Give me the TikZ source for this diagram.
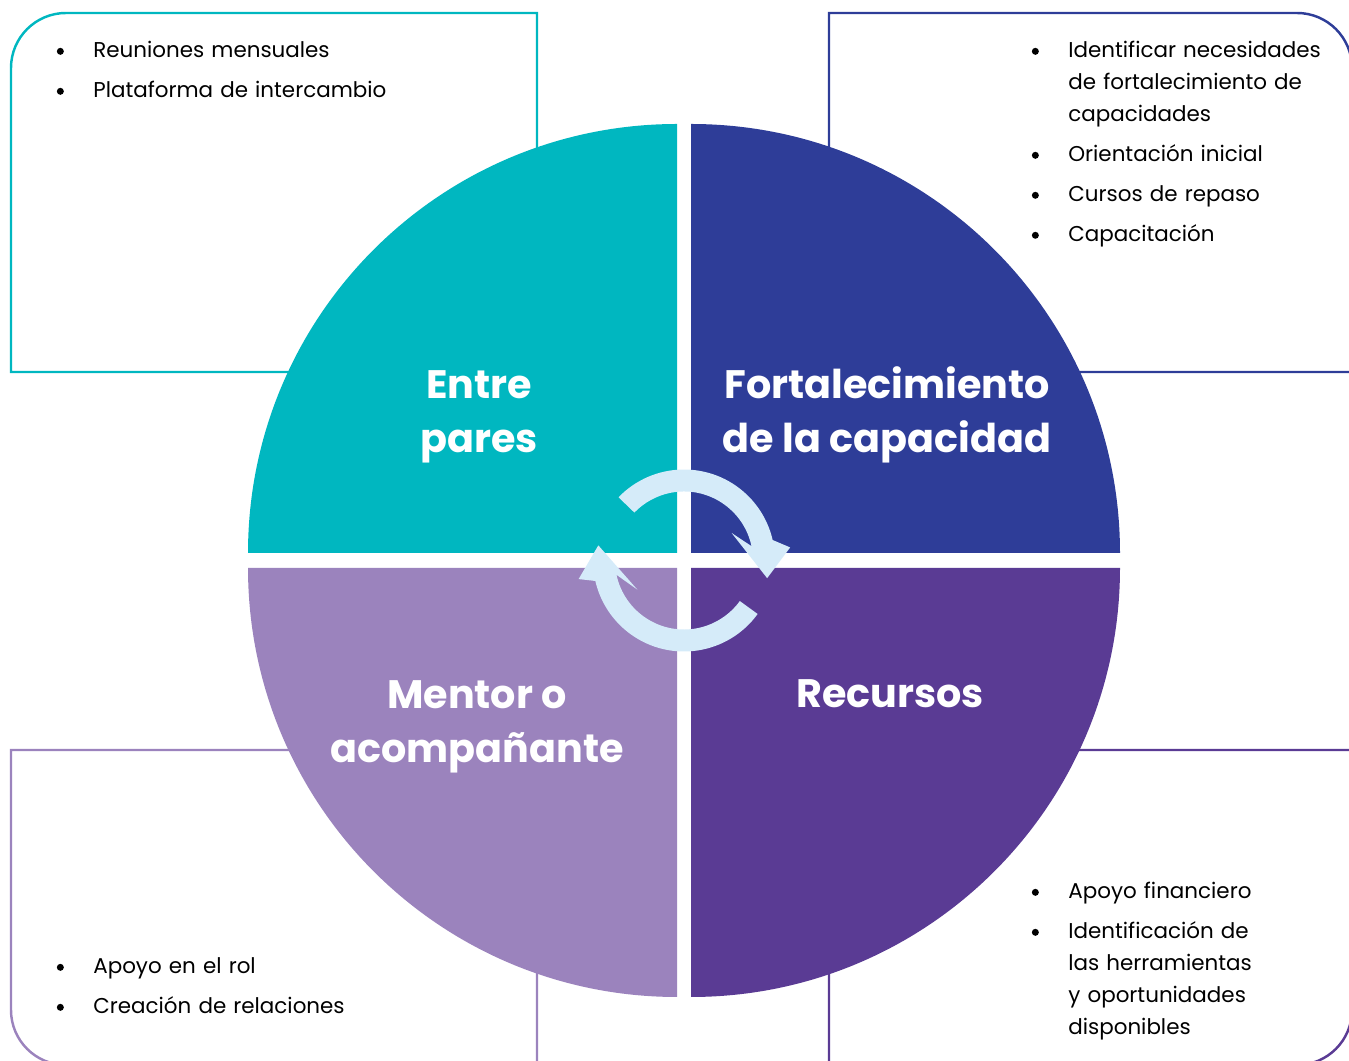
\documentclass[tikz,border=0pt]{standalone}
\usepackage{fontspec}
\setmainfont{Poppins}
\usetikzlibrary{positioning,calc}
\definecolor{cpares}{HTML}{00B7C0}
\definecolor{cfort}{HTML}{2E3D98}
\definecolor{cmentor}{HTML}{9B83BD}
\definecolor{crecursos}{HTML}{5A3B94}
\definecolor{cflecha}{HTML}{D5EBF9}

% one bullet line of a list, with hanging indent
\newcommand{\punto}[1]{\par\hangindent=0.76cm\hangafter=1\noindent
  \makebox[0.76cm][l]{\hspace{0.03cm}\tikz[baseline=-0.12cm]\fill (0cm,0cm) circle (0.07cm);}#1\par}

\tikzset{
  caja/.style={line width=1.4pt},
  lista/.style={anchor=north west, inner sep=0pt, text width=8cm, align=left,
    font=\fontsize{12.2pt}{0.64cm}\selectfont\setlength{\parskip}{0.16cm}},
  titulo/.style={white, align=center, inner sep=0pt,
    font=\fontsize{22.6pt}{1.08cm}\selectfont\bfseries},
  flecha/.style={fill=cflecha}
}

\begin{document}
\begin{tikzpicture}[x=0.02cm,y=0.02cm]
  \useasboundingbox (0,0) rectangle (1349,1061);
  \clip (0,0) rectangle (1349,1061);

  % boxes behind the circle
  \draw[caja, cpares] (537,689) -- (11,689) [rounded corners=1.1cm] -- (11,1048) [sharp corners] -- (537,1048) -- cycle;
  \draw[caja, cfort] (829,689) -- (829,1048) [rounded corners=1.1cm] -- (1352,1048) [sharp corners] -- (1352,689) -- cycle;
  \draw[caja, cmentor] (537,311) -- (11,311) [rounded corners=1.1cm] -- (11,-4) [sharp corners] -- (537,-4) -- cycle;
  \draw[caja, crecursos] (829,-4) -- (829,311) -- (1352,311) [rounded corners=1.1cm] -- (1352,-4) [sharp corners] -- cycle;

  % the four quarters
  \coordinate (c) at (684,500.5);
  \fill[cpares] (677,508) -- ++(-429,0) arc (180:90:429) -- cycle;
  \fill[cfort] (691,508) -- ++(0,429) arc (90:0:429) -- cycle;
  \fill[cmentor] (677,493) -- ++(-429,0) arc (180:270:429) -- cycle;
  \fill[crecursos] (691,493) -- ++(0,-429) arc (270:360:429) -- cycle;

  % cycle arrows
  \fill[flecha] ($(c)+(136:91)$) arc (136:13:91) -- ($(c)+(7:107)$) -- ($(c)+(-12:85)$)
    -- ($(c)+(30:55)$) -- ($(c)+(12:69)$) arc (12:136:69) -- cycle;
  \fill[flecha] ($(c)+(-36:91)$) arc (-36:-167:91) -- ($(c)+(190:107)$) -- ($(c)+(170:87)$)
    -- ($(c)+(212:55)$) -- ($(c)+(192:69)$) arc (192:324:69) -- cycle;

  % titles
  \node[titulo] (pares) at (479,644) {Entre\\pares};
  \node[titulo] (fort) at (887,646) {Fortalecimiento\\de la capacidad};
  \node[titulo] (mentor) at (477,334) {Mentor o\\acompañante};
  \node[titulo] (recursos) at (890,367) {Recursos};

  % lists
  \node[lista] (lpares) at (55,1044) {\punto{Reuniones mensuales}\punto{Plataforma de intercambio}};
  \node[lista] (lfort) at (1030,1044) {\punto{Identificar necesidades\newline de fortalecimiento de\newline capacidades}\punto{Orientación inicial}\punto{Cursos de repaso}\punto{Capacitación}};
  \node[lista] (lmentor) at (55,128) {\punto{Apoyo en el rol}\punto{Creación de relaciones}};
  \node[lista] (lrecursos) at (1030,203) {\punto{Apoyo financiero}\punto{Identificación de\newline las herramientas\newline y oportunidades\newline disponibles}};
\end{tikzpicture}
\end{document}
